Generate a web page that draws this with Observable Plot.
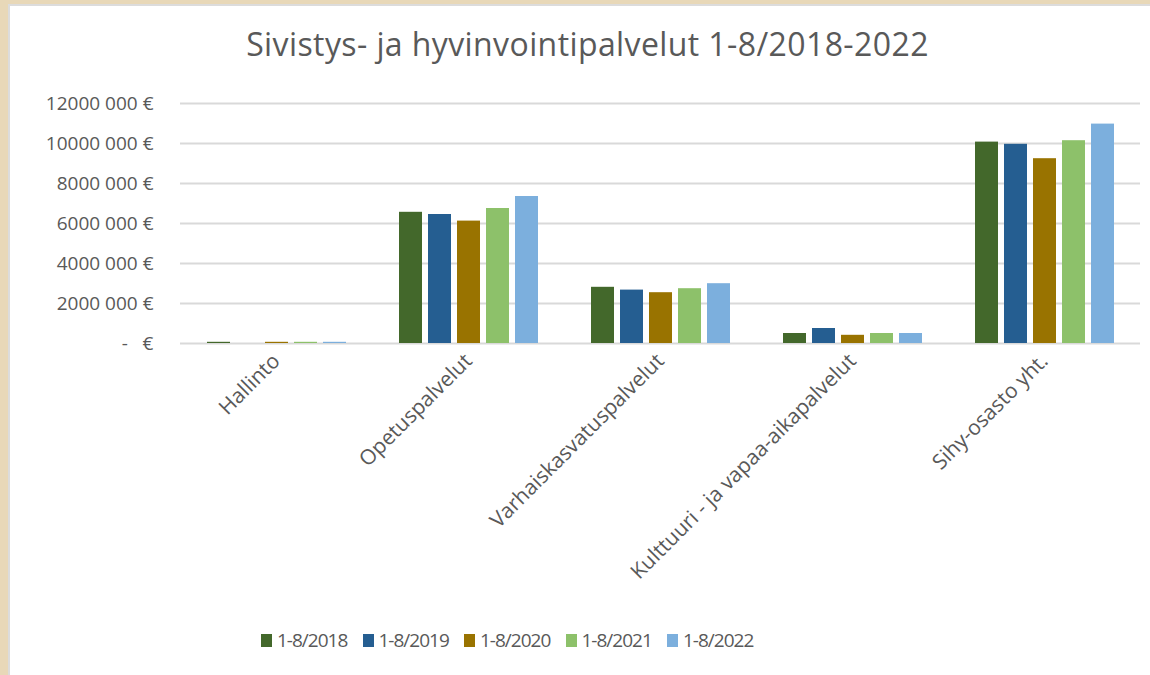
<!DOCTYPE html>
<html>
<head>
<meta charset="utf-8">
<script src="https://cdn.jsdelivr.net/npm/d3@7"></script>
<script src="https://cdn.jsdelivr.net/npm/@observablehq/plot@0.6"></script>
<style>
  html, body { margin: 0; padding: 0; }
  body { width: 1150px; height: 675px; background: #e8d8b8; position: relative; overflow: hidden; font-family: "Open Sans", sans-serif; }
  #panel { position: absolute; left: 8px; top: 4px; width: 1142px; height: 671px; background: #ffffff; border-left: 2px solid #dcdcdc; border-top: 2px solid #dcdcdc; box-sizing: border-box; }
  #title { position: absolute; left: 0; top: 24px; width: 1150px; padding-left: 25px; box-sizing: border-box; text-align: center; font-size: 32px; letter-spacing: 0.4px; line-height: 40px; color: #595959; }
  #chart { position: absolute; left: 0; top: 80px; }
  #legend { position: absolute; left: 261px; top: 627px; display: flex; color: #595959; font-size: 19px; letter-spacing: -1px; line-height: 26px; }
  .item { width: 101.5px; display: flex; align-items: center; }
  .sw { width: 11px; height: 13px; margin-right: 5px; }
</style>
</head>
<body>
<div id="panel"></div>
<div id="title"></div>
<div id="chart"></div>
<div id="legend"></div>
<script>
const titleText = "Sivistys- ja hyvinvointipalvelut 1-8/2018-2022";
const categories = ["Hallinto", "Opetuspalvelut", "Varhaiskasvatuspalvelut", "Kulttuuri - ja vapaa-aikapalvelut", "Sihy-osasto yht."];
const years = ["1-8/2018", "1-8/2019", "1-8/2020", "1-8/2021", "1-8/2022"];
const v2018 = [60000, 6560000, 2810000, 500000, 10070000];
const v2019 = [0, 6450000, 2670000, 750000, 9960000];
const v2020 = [60000, 6120000, 2540000, 410000, 9240000];
const v2021 = [60000, 6750000, 2740000, 500000, 10140000];
const v2022 = [60000, 7350000, 2990000, 500000, 10970000];
const colors = ["#43682B", "#255E91", "#997300", "#8DC16A", "#7CAFDD"];
const yTicks = [0, 2000000, 4000000, 6000000, 8000000, 10000000, 12000000];
const yTickLabels = ["-\u00a0\u00a0\u00a0€", "2000\u00a0000\u00a0€", "4000\u00a0000\u00a0€", "6000\u00a0000\u00a0€", "8000\u00a0000\u00a0€", "10000\u00a0000\u00a0€", "12000\u00a0000\u00a0€"];

const series = [v2018, v2019, v2020, v2021, v2022];
const data = [];
categories.forEach((c, i) => {
  years.forEach((y, j) => data.push({category: c, year: y, value: series[j][i]}));
});

document.getElementById("title").textContent = titleText;

const chart = Plot.plot({
  width: 1150,
  height: 560,
  marginLeft: 180,
  marginRight: 10,
  marginTop: 23,
  marginBottom: 297,
  style: {fontFamily: "'Open Sans', sans-serif", fontSize: "18px", color: "#595959", background: "transparent"},
  fx: {domain: categories, padding: 0, label: null},
  x: {domain: years, paddingInner: 0.22, paddingOuter: 0.864, axis: null},
  y: {domain: [0, 12000000], axis: null},
  color: {domain: years, range: colors},
  marks: [
    Plot.ruleY(yTicks, {stroke: "#d9d9d9", strokeWidth: 2}),
    Plot.barY(data, {fx: "category", x: "year", y: "value", fill: "year"}),
    Plot.axisY(yTicks, {anchor: "left", tickSize: 0, tickPadding: 27, tickFormat: d => yTickLabels[yTicks.indexOf(d)], label: null, fontSize: 19, fill: "#595959"}),
    Plot.axisFx({anchor: "bottom", tickSize: 0, tickPadding: 14, tickRotate: -45, label: null, fontSize: 21, fill: "#595959"})
  ]
});
document.getElementById("chart").appendChild(chart);

const legend = document.getElementById("legend");
years.forEach((y, j) => {
  const item = document.createElement("div");
  item.className = "item";
  const sw = document.createElement("span");
  sw.className = "sw";
  sw.style.background = colors[j];
  const t = document.createElement("span");
  t.textContent = y;
  item.appendChild(sw);
  item.appendChild(t);
  legend.appendChild(item);
});
</script>
</body>
</html>
